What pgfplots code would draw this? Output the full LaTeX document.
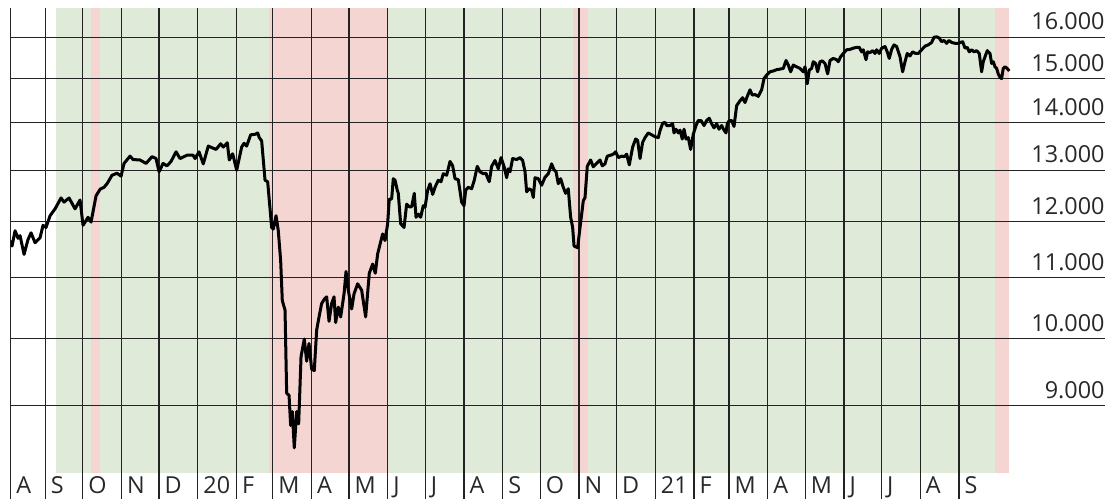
\documentclass[border=0pt]{standalone}
\usepackage{fontspec}
\setmainfont{Open Sans}
\usepackage{pgfplots}
\usepackage{pgfplotstable}
\pgfplotsset{compat=1.18}
\definecolor{bggreen}{RGB}{223,235,216}
\definecolor{bgpink}{RGB}{244,213,210}
\definecolor{gridc}{RGB}{35,35,35}
\definecolor{labelc}{RGB}{40,40,40}

% day 0 = 1 Sep 2019
\pgfplotstableread{
day val
-27.6 11650
-26.6 11550
-24.2 11830
-21.8 11690
-20.2 11740
-17.0 11400
-13.8 11670
-11.4 11790
-8.2 11610
-4.2 11700
-1.8 11930
0.6 11890
3.8 12110
7.8 12240
12.6 12450
15.0 12370
19.0 12450
23.8 12240
27.8 12410
30.2 11930
34.2 12080
36.6 11990
40.6 12490
43.8 12620
47.0 12660
49.4 12730
53.4 12900
57.4 12940
60.6 12880
63.0 13140
67.8 13290
70.2 13220
75.8 13210
80.6 13140
85.4 13280
88.6 13240
91.0 12970
94.2 13140
97.4 13090
100.6 13180
104.6 13380
107.8 13240
113.4 13310
118.2 13310
119.8 13240
123.0 13380
126.4 13130
130.4 13500
136.6 13430
140.3 13550
142.4 13480
145.6 13570
147.2 13210
149.9 13340
153.1 13000
157.1 13480
159.0 13560
161.1 13500
164.3 13740
167.8 13750
169.9 13780
171.2 13680
173.1 13610
175.8 12800
177.9 12770
181.1 11890
182.4 11860
184.6 12110
186.4 11830
188.3 11290
189.6 10610
191.8 10450
193.1 9180
195.0 9150
196.3 8730
197.6 8920
199.2 8430
201.1 8920
202.7 8750
204.6 9720
207.2 9990
209.1 9650
211.0 9920
213.1 9530
215.2 9510
217.1 10130
219.0 10340
221.1 10560
223.2 10630
225.1 10670
227.0 10270
229.1 10560
231.0 10670
232.3 10250
234.4 10500
236.3 10340
239.0 10720
240.6 11100
242.4 10780
245.1 10470
247.0 10720
249.9 10890
253.1 10780
256.3 10340
259.2 11070
261.9 11230
264.0 11070
265.9 11410
269.9 11770
271.8 11650
273.9 11960
275.2 12430
277.1 12430
278.4 12830
279.8 12800
281.6 12600
282.4 12540
284.3 11960
287.0 11890
289.1 12330
291.2 12280
293.1 12280
295.2 12540
296.6 12080
298.4 12140
300.3 12080
302.4 12300
303.8 12270
305.9 12600
307.8 12730
309.9 12520
311.8 12660
314.4 12800
316.6 12770
318.4 12930
321.1 12900
323.8 13180
325.9 13090
327.8 12830
330.4 12810
333.1 12370
335.0 12300
336.3 12600
338.4 12660
341.1 12630
343.2 12800
345.6 13080
347.8 12970
350.4 12930
352.6 12940
353.6 12860
355.2 12770
357.1 13080
359.8 13200
362.4 13030
364.6 13260
367.0 13080
369.1 12850
370.4 13030
371.8 12970
373.9 13240
377.1 13220
379.8 13260
381.9 13200
383.8 12970
385.1 12570
387.0 12630
389.1 12600
390.4 12460
391.8 12850
394.4 12830
397.1 12700
399.8 12860
402.4 12930
405.1 13130
407.0 13010
408.6 12970
410.4 12730
412.3 12830
414.4 12660
416.3 12540
418.4 12630
420.3 12080
421.9 11890
423.0 11550
425.9 11520
427.8 11890
430.4 12390
431.8 12460
433.6 13080
436.3 13210
438.4 13070
441.1 13140
443.8 13210
445.6 13090
447.8 13130
449.6 13290
452.3 13310
454.4 13330
456.3 13380
458.4 13260
461.1 13290
463.2 13280
465.1 13330
467.2 13110
469.9 13480
472.3 13650
473.9 13620
475.8 13240
477.9 13580
479.8 13680
482.4 13780
485.1 13740
487.8 13700
490.4 13680
491.8 13830
493.9 13990
495.8 14010
497.1 13940
499.8 13940
501.9 13980
503.0 13780
504.6 13860
506.4 13780
507.8 13840
509.6 13650
511.0 13860
512.6 13650
514.4 13680
516.3 13430
518.4 13750
520.6 13940
522.4 14050
524.6 14050
527.0 13940
529.1 14050
531.2 14100
533.1 13980
535.0 13890
537.1 13980
539.0 13860
541.1 13940
543.0 13840
544.6 13780
545.6 13980
547.2 14050
549.1 14050
551.0 13920
553.1 14380
555.8 14490
557.9 14560
559.8 14450
561.6 14590
563.8 14740
565.6 14620
567.8 14630
570.4 14590
573.1 14740
575.0 15000
577.1 15080
579.8 15160
582.4 15180
585.1 15210
587.2 15220
590.4 15240
592.6 15430
594.4 15320
596.3 15160
598.4 15320
601.1 15280
603.8 15240
606.4 15160
607.8 15280
609.6 14880
611.2 15200
613.1 15240
614.4 15400
616.3 15360
617.9 15160
619.8 15400
621.6 15420
623.8 15360
625.9 15110
627.8 15430
630.4 15480
633.1 15450
634.4 15400
636.3 15520
638.4 15600
641.1 15690
643.8 15700
646.4 15730
649.1 15750
651.2 15750
653.1 15640
654.4 15690
656.6 15450
657.9 15640
659.8 15620
661.9 15670
663.8 15600
665.1 15690
667.2 15600
669.1 15730
671.8 15770
673.6 15640
675.2 15480
677.1 15700
679.0 15810
681.1 15770
683.8 15520
685.9 15160
687.8 15400
689.6 15600
691.8 15540
693.9 15640
696.3 15600
698.4 15600
701.1 15690
703.8 15780
706.4 15810
709.1 15870
711.0 16000
713.1 16010
715.2 15980
717.1 15890
719.0 15920
721.1 15850
723.0 15920
725.1 15870
727.8 15850
730.4 15850
732.3 15870
733.9 15890
735.8 15730
737.6 15750
739.2 15640
741.1 15690
743.0 15640
745.1 15670
747.2 15600
749.1 15160
750.4 15400
751.8 15520
753.6 15670
755.8 15600
757.1 15360
758.4 15400
759.8 15280
761.1 15240
762.4 15110
763.8 15030
765.1 15000
766.4 15240
767.8 15280
769.6 15240
771.2 15180
}\daxdata

% shaded phases
\pgfplotstableread{
x y
8.56 8106.5
8.56 16748
36.8 16748
36.8 8106.5
}\gA
\pgfplotstableread{
x y
36.8 8106.5
36.8 16748
43.76 16748
43.76 8106.5
}\pA
\pgfplotstableread{
x y
43.76 8106.5
43.76 16748
179.2 16748
179.2 8106.5
}\gB
\pgfplotstableread{
x y
179.2 8106.5
179.2 16748
273.4 16748
273.4 8106.5
}\pB
\pgfplotstableread{
x y
273.4 8106.5
273.4 16748
422.4 16748
422.4 8106.5
}\gC
\pgfplotstableread{
x y
422.4 8106.5
422.4 16748
433.9 16748
433.9 8106.5
}\pC
\pgfplotstableread{
x y
433.9 8106.5
433.9 16748
759.8 16748
759.8 8106.5
}\gD
\pgfplotstableread{
x y
759.8 8106.5
759.8 16748
771.0 16748
771.0 8106.5
}\pD

\begin{document}
\begin{tikzpicture}
\begin{axis}[
  set layers,
  scale only axis,
  width=547.15pt, height=245.5pt,
  xmin=-27.68, xmax=847.8,
  ymode=log, ymin=7784, ymax=16748,
  axis line style={draw=none},
  major tick length=0pt, minor tick num=0,
  xtick={-27.68,0,30,61,91,122,153,182,213,243,274,304,335,366,396,427,457,488,519,547,578,608,639,669,700,731},
  xticklabels={A,S,O,N,D,20,F,M,A,M,J,J,A,S,O,N,D,21,F,M,A,M,J,J,A,S},
  ytick={9000,10000,11000,12000,13000,14000,15000,16000},
  yticklabels={9.000,10.000,11.000,12.000,13.000,14.000,15.000,16.000},
  yticklabel pos=right,
  xmajorgrids, ymajorgrids,
  major grid style={draw=gridc, line width=0.6pt},
  tick label style={font=\fontsize{11.7}{13}\selectfont, text=labelc},
  xticklabel style={anchor=base west, inner sep=0pt, xshift=2.6pt, yshift=2.85pt},
  yticklabel style={anchor=base east, inner sep=0pt, xshift=0pt, yshift=3.65pt},
]
\addplot[fill=bggreen, draw=none, on layer=axis background] table {\gA};
\addplot[fill=bgpink, draw=none, on layer=axis background] table {\pA};
\addplot[fill=bggreen, draw=none, on layer=axis background] table {\gB};
\addplot[fill=bgpink, draw=none, on layer=axis background] table {\pB};
\addplot[fill=bggreen, draw=none, on layer=axis background] table {\gC};
\addplot[fill=bgpink, draw=none, on layer=axis background] table {\pC};
\addplot[fill=bggreen, draw=none, on layer=axis background] table {\gD};
\addplot[fill=bgpink, draw=none, on layer=axis background] table {\pD};
\addplot[black, line width=1.5pt, line join=round, mark=none] table {\daxdata};
\end{axis}
\path ([xshift=-5.35pt]current axis.south west);
\path ([xshift=2pt,yshift=4pt]current axis.north east);
\end{tikzpicture}
\end{document}
